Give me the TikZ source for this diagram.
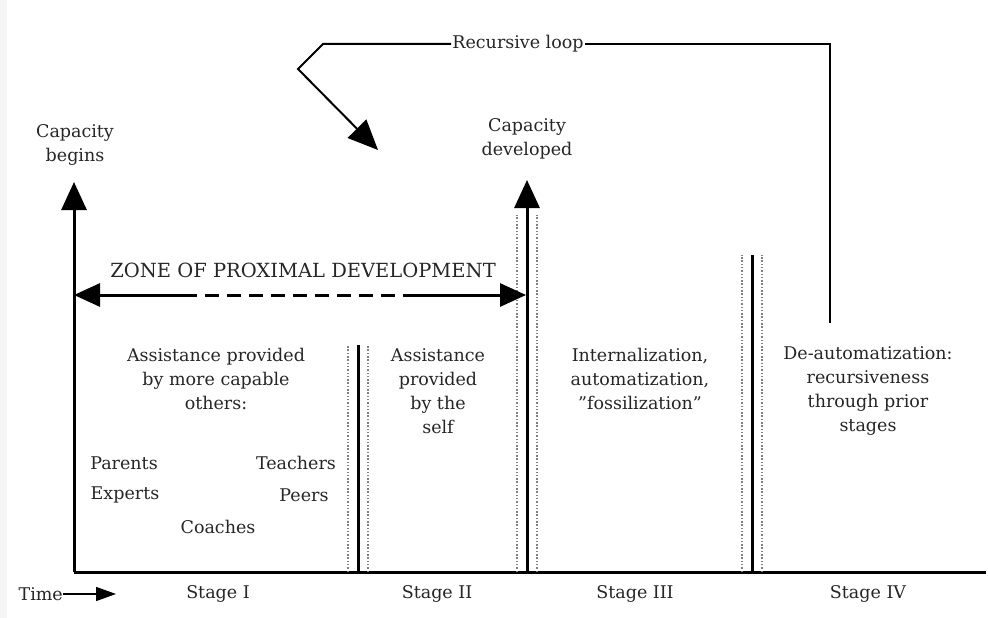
\documentclass[tikz,border=0pt]{standalone}
\usepackage{fontspec}
\setmainfont{DejaVu Serif}
\usetikzlibrary{arrows.meta}
\begin{document}
\begin{tikzpicture}[x=1pt,y=-1pt,
  lbl/.style={font=\fontsize{17.5}{24}\selectfont, align=center, inner sep=0pt, text=black!85},
  axis/.style={line width=3pt},
  bigarrow/.style={-{Triangle[length=28pt,width=25pt]}},
  dots/.style={line width=1.6pt, black!50, dash pattern=on 1.5pt off 1.8pt},
  loopline/.style={line width=2pt}]
\useasboundingbox (0,0) rectangle (988,618);
\fill[white] (0,0) rectangle (988,618);
\fill[black!4] (0,0) rectangle (7,618);
% axes
\coordinate (O) at (74,572);
\coordinate (E) at (986,572);
\coordinate (Ltop) at (74,182);
\draw[axis] (O) -- (E);
\draw[axis,bigarrow] (O) -- (Ltop);
% bar 1
\coordinate (b1b) at (358,572); \coordinate (b1t) at (358,345);
\draw[dots] (348,572) -- (348,345);
\draw[dots] (368,572) -- (368,345);
\draw[axis] (b1b) -- (b1t);
% bar 2
\coordinate (b2b) at (527,572); \coordinate (b2t) at (527,180);
\draw[dots] (517,572) -- (517,215);
\draw[dots] (537,572) -- (537,215);
\draw[axis,bigarrow] (b2b) -- (b2t);
% bar 3
\coordinate (b3b) at (752,572); \coordinate (b3t) at (752,255);
\draw[dots] (742,572) -- (742,255);
\draw[dots] (762,572) -- (762,255);
\draw[axis] (b3b) -- (b3t);
% ZPD arrow
\coordinate (zl) at (74,295); \coordinate (zr) at (526,295);
\coordinate (zd1) at (183,295); \coordinate (zd2) at (410,295);
\draw[axis,{Triangle[length=26pt,width=23pt]}-] (zl) -- (zd1);
\draw[axis,dash pattern=on 14pt off 8pt] (zd1) -- (zd2);
\draw[axis,-{Triangle[length=26pt,width=23pt]}] (zd2) -- (zr);
\node[lbl,font=\fontsize{19.5}{22}\selectfont] (zpd) at (303,270) {ZONE OF PROXIMAL DEVELOPMENT};
% recursive loop
\node[lbl,inner xsep=1pt] (rl) at (518,44) {Recursive loop};
\coordinate (rr1) at (830,44); \coordinate (rr2) at (830,323);
\coordinate (rl1) at (323,44); \coordinate (rl2) at (298,69); \coordinate (rl3) at (378,150);
\draw[loopline] (rl.east) -- (rr1) -- (rr2);
\draw[loopline,-{Triangle[length=30pt,width=26pt]}] (rl.west) -- (rl1) -- (rl2) -- (rl3);
% labels
\node[lbl] (cb) at (75,145) {Capacity\\begins};
\node[lbl] (cd) at (527,139) {Capacity\\developed};
\node[lbl] (t1) at (216,379) {Assistance provided\\by more capable\\others:};
\node[lbl] (t2) at (438,391) {Assistance\\provided\\by the\\self};
\node[lbl] (t3) at (640,379) {Internalization,\\automatization,\\\char34 fossilization\char34};
\node[lbl] (t4) at (868,391) {De-automatization:\\recursiveness\\through prior\\stages};
\node[lbl] (p1) at (124,463) {Parents};
\node[lbl] (p2) at (296,463) {Teachers};
\node[lbl] (p3) at (125,495) {Experts};
\node[lbl] (p4) at (304,495) {Peers};
\node[lbl] (p5) at (218,527) {Coaches};
% time axis labels
\node[lbl,anchor=east] (time) at (63,594) {Time};
\coordinate (ta) at (116,594);
\draw[line width=1.5pt,-{Triangle[length=20pt,width=14pt]}] (time.east) -- (ta);
\node[lbl] (s1) at (218,594) {Stage I};
\node[lbl] (s2) at (437,594) {Stage II};
\node[lbl] (s3) at (635,594) {Stage III};
\node[lbl] (s4) at (868,594) {Stage IV};
\end{tikzpicture}
\end{document}
